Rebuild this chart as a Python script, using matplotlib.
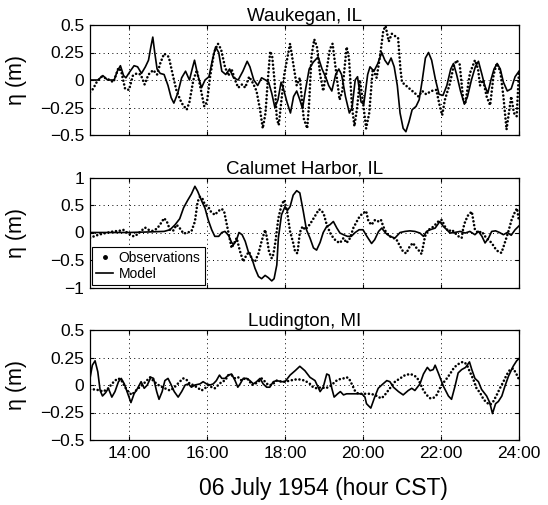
import matplotlib
matplotlib.use("Agg")
import matplotlib.pyplot as plt
from matplotlib.lines import Line2D

plt.rcParams['font.family'] = ['Liberation Sans', 'DejaVu Sans']

# ---------------- data (hours CST, metres) ----------------
titles = ["Waukegan, IL", "Calumet Harbor, IL", "Ludington, MI"]

wauk_obs_t = [13.00, 13.08, 13.17, 13.30, 13.45, 13.60, 13.73, 13.80, 13.90, 14.00,
              14.10, 14.20, 14.30, 14.40, 14.50, 14.62, 14.72, 14.80, 14.90, 15.02,
              15.12, 15.22, 15.35, 15.48, 15.55, 15.65, 15.74, 15.82, 15.93, 16.00,
              16.08, 16.18, 16.28, 16.36, 16.46, 16.55, 16.63, 16.72, 16.80, 16.90,
              16.98, 17.08, 17.18, 17.27, 17.36, 17.43, 17.50, 17.56, 17.62, 17.67,
              17.73, 17.79, 17.84, 17.92, 17.98, 18.05, 18.13, 18.21, 18.30, 18.38,
              18.48, 18.57, 18.62, 18.68, 18.75, 18.82, 18.90, 18.98, 19.05, 19.15,
              19.22, 19.30, 19.40, 19.47, 19.58, 19.64, 19.72, 19.78, 19.85, 19.92,
              20.00, 20.08, 20.16, 20.25, 20.35, 20.45, 20.52, 20.58, 20.66, 20.74,
              20.82, 20.90, 20.96, 21.00, 21.10, 21.20, 21.33, 21.42, 21.52, 21.62,
              21.75, 21.88, 21.97, 22.03, 22.10, 22.23, 22.32, 22.40, 22.48, 22.57,
              22.62, 22.74, 22.87, 22.95, 23.00, 23.08, 23.17, 23.26, 23.35, 23.43,
              23.52, 23.60, 23.68, 23.74, 23.80, 23.87, 23.94, 24.00]
wauk_obs_v = [-0.11, -0.08, -0.02, 0.03, 0.01, -0.02, 0.11, 0.08, -0.08, -0.09,
              0.04, 0.06, 0.05, -0.04, 0.05, 0.09, 0.05, 0.15, 0.24, 0.21,
              0.05, -0.10, -0.21, -0.27, -0.20, 0.00, 0.09, -0.05, -0.24, -0.20,
              0.03, 0.25, 0.33, 0.28, 0.12, 0.04, 0.10, 0.00, -0.07, -0.04,
              -0.07, 0.03, -0.03, -0.10, -0.27, -0.44, -0.30, 0.00, 0.26, 0.22,
              0.00, -0.35, -0.41, -0.15, 0.05, 0.18, 0.33, 0.15, -0.05, 0.02,
              -0.35, -0.44, -0.20, 0.22, 0.37, 0.30, 0.05, -0.10, 0.05, 0.28,
              0.33, 0.10, -0.18, -0.10, 0.30, 0.20, -0.25, -0.42, -0.25, 0.00,
              -0.20, -0.44, -0.30, 0.10, 0.02, 0.25, 0.45, 0.49, 0.35, 0.42,
              0.40, 0.38, 0.10, -0.02, -0.05, -0.08, -0.12, -0.15, -0.10, -0.13,
              -0.10, -0.09, -0.24, -0.32, -0.18, -0.03, 0.12, 0.18, 0.14, -0.18,
              -0.22, 0.06, 0.18, 0.10, -0.05, 0.00, -0.15, -0.23, 0.05, 0.15,
              0.08, -0.15, -0.45, -0.30, -0.15, -0.30, -0.33, 0.08]

wauk_mod_t = [13.00, 13.20, 13.33, 13.45, 13.62, 13.70, 13.78, 13.86, 13.92, 14.03,
              14.13, 14.22, 14.32, 14.42, 14.50, 14.56, 14.61, 14.66, 14.72, 14.80,
              14.90, 15.00, 15.08, 15.15, 15.25, 15.35, 15.45, 15.55, 15.62, 15.68,
              15.76, 15.86, 15.95, 16.05, 16.15, 16.22, 16.30, 16.38, 16.48, 16.58,
              16.68, 16.80, 16.92, 17.03, 17.10, 17.20, 17.30, 17.40, 17.50, 17.58,
              17.66, 17.74, 17.82, 17.90, 17.96, 18.05, 18.14, 18.22, 18.30, 18.38,
              18.45, 18.52, 18.62, 18.72, 18.85, 18.95, 19.05, 19.12, 19.20, 19.30,
              19.38, 19.45, 19.55, 19.65, 19.72, 19.80, 19.86, 19.95, 20.02, 20.12,
              20.18, 20.28, 20.38, 20.48, 20.56, 20.64, 20.72, 20.80, 20.88, 20.95,
              21.03, 21.10, 21.18, 21.26, 21.36, 21.44, 21.52, 21.60, 21.68, 21.76,
              21.86, 21.95, 22.05, 22.15, 22.25, 22.32, 22.40, 22.50, 22.60, 22.68,
              22.78, 22.88, 22.96, 23.05, 23.12, 23.20, 23.28, 23.36, 23.44, 23.52,
              23.60, 23.70, 23.80, 23.90, 24.00]
wauk_mod_v = [0.00, 0.00, 0.04, 0.00, 0.00, 0.08, 0.13, 0.04, 0.02, 0.08,
              0.13, 0.12, 0.06, 0.12, 0.18, 0.30, 0.39, 0.25, 0.10, 0.06,
              0.05, -0.05, -0.16, -0.21, -0.12, 0.02, 0.08, 0.00, 0.10, 0.18,
              0.05, -0.07, 0.00, 0.03, 0.20, 0.30, 0.25, 0.08, 0.05, 0.10,
              0.02, 0.00, 0.08, 0.17, 0.12, 0.00, -0.05, 0.02, 0.00, -0.02,
              -0.12, -0.25, -0.18, -0.02, -0.08, -0.20, -0.30, -0.15, -0.10, -0.18,
              -0.26, -0.10, 0.10, 0.16, 0.21, 0.10, 0.02, -0.05, -0.10, 0.05,
              0.10, 0.05, -0.15, -0.30, -0.25, 0.00, 0.03, -0.20, -0.22, 0.05,
              0.12, 0.08, 0.15, 0.25, 0.18, 0.14, 0.20, 0.12, -0.05, -0.30,
              -0.44, -0.47, -0.38, -0.27, -0.24, -0.18, 0.00, 0.20, 0.25, 0.18,
              0.00, -0.13, -0.14, -0.05, 0.10, 0.15, 0.05, -0.10, -0.22, -0.15,
              0.00, 0.12, 0.17, 0.05, -0.05, -0.12, 0.00, 0.10, 0.15, 0.10,
              -0.02, -0.10, -0.08, 0.03, 0.08]

calu_obs_t = [13.00, 13.10, 13.22, 13.40, 13.60, 13.75, 13.85, 13.95, 14.03, 14.12,
              14.20, 14.30, 14.41, 14.50, 14.60, 14.72, 14.82, 14.90, 14.97, 15.05,
              15.13, 15.22, 15.30, 15.40, 15.50, 15.60, 15.69, 15.76, 15.82, 15.88,
              15.95, 16.03, 16.10, 16.20, 16.29, 16.38, 16.44, 16.50, 16.57, 16.63,
              16.70, 16.76, 16.85, 16.93, 17.01, 17.08, 17.16, 17.23, 17.32, 17.40,
              17.49, 17.53, 17.59, 17.66, 17.70, 17.75, 17.83, 17.91, 17.98, 18.05,
              18.13, 18.21, 18.26, 18.32, 18.38, 18.45, 18.52, 18.64, 18.77, 18.87,
              18.94, 19.00, 19.07, 19.16, 19.24, 19.32, 19.41, 19.50, 19.58, 19.67,
              19.75, 19.84, 19.92, 20.00, 20.08, 20.14, 20.22, 20.31, 20.40, 20.46,
              20.52, 20.60, 20.69, 20.78, 20.86, 20.95, 21.03, 21.11, 21.20, 21.28,
              21.37, 21.46, 21.50, 21.55, 21.59, 21.68, 21.76, 21.85, 21.93, 22.02,
              22.10, 22.19, 22.28, 22.36, 22.45, 22.53, 22.57, 22.62, 22.70, 22.79,
              22.87, 22.96, 23.04, 23.13, 23.21, 23.30, 23.38, 23.47, 23.55, 23.63,
              23.72, 23.81, 23.90, 23.95, 24.00]
calu_obs_v = [-0.10, -0.07, -0.04, -0.01, 0.02, 0.03, 0.05, 0.00, -0.04, -0.07,
              -0.04, 0.02, 0.09, 0.05, 0.03, 0.07, 0.17, 0.26, 0.20, 0.05,
              0.03, 0.14, 0.08, -0.02, 0.00, 0.02, 0.20, 0.56, 0.65, 0.62,
              0.50, 0.47, 0.38, 0.32, 0.39, 0.43, 0.38, 0.17, -0.07, -0.28,
              -0.19, -0.10, -0.35, -0.53, -0.41, -0.35, -0.50, -0.53, -0.38, -0.16,
              0.05, -0.07, -0.35, -0.47, -0.40, -0.19, 0.26, 0.50, 0.59, 0.40,
              0.02, -0.19, -0.35, -0.38, 0.00, 0.11, 0.05, 0.15, 0.30, 0.42,
              0.40, 0.32, 0.14, -0.01, -0.10, -0.16, -0.19, -0.10, -0.19, -0.10,
              0.08, 0.20, 0.30, 0.35, 0.39, 0.20, 0.14, 0.23, 0.20, 0.23,
              0.11, -0.01, -0.07, -0.10, -0.13, -0.25, -0.35, -0.38, -0.25, -0.19,
              -0.28, -0.35, -0.39, -0.22, -0.07, 0.05, 0.08, 0.14, 0.20, 0.23,
              0.11, 0.02, 0.05, -0.01, -0.07, -0.10, 0.08, 0.20, 0.32, 0.38,
              0.05, -0.01, 0.02, -0.07, -0.13, -0.19, -0.28, -0.35, -0.37, -0.20,
              0.00, 0.23, 0.38, 0.44, 0.20]

calu_mod_t = [13.00, 13.50, 14.00, 14.50, 14.90, 15.05, 15.18, 15.30, 15.40, 15.50,
              15.60, 15.69, 15.76, 15.86, 15.95, 16.03, 16.12, 16.20, 16.30, 16.38,
              16.46, 16.55, 16.63, 16.68, 16.75, 16.82, 16.90, 16.98, 17.06, 17.15,
              17.23, 17.32, 17.40, 17.49, 17.57, 17.66, 17.72, 17.79, 17.83, 17.91,
              18.00, 18.06, 18.13, 18.21, 18.30, 18.38, 18.47, 18.55, 18.64, 18.73,
              18.81, 18.90, 18.98, 19.07, 19.15, 19.24, 19.33, 19.41, 19.50, 19.60,
              19.70, 19.80, 19.90, 20.00, 20.10, 20.22, 20.30, 20.40, 20.48, 20.58,
              20.69, 20.82, 20.95, 21.08, 21.20, 21.33, 21.46, 21.55, 21.63, 21.72,
              21.85, 21.97, 22.06, 22.15, 22.23, 22.35, 22.49, 22.62, 22.74, 22.87,
              22.96, 23.05, 23.13, 23.22, 23.30, 23.40, 23.50, 23.60, 23.70, 23.80,
              23.90, 24.00]
calu_mod_v = [0.00, 0.00, 0.00, 0.01, 0.02, 0.05, 0.14, 0.25, 0.45, 0.58,
              0.70, 0.84, 0.75, 0.58, 0.44, 0.23, 0.05, -0.07, -0.07, 0.00,
              0.02, -0.05, -0.18, -0.22, -0.15, 0.00, -0.04, -0.16, -0.35, -0.47,
              -0.65, -0.80, -0.84, -0.78, -0.82, -0.88, -0.84, -0.59, -0.10, 0.32,
              0.47, 0.40, 0.47, 0.68, 0.76, 0.72, 0.38, 0.05, -0.10, -0.28,
              -0.32, -0.18, 0.00, 0.11, 0.14, 0.20, 0.08, -0.01, -0.04, -0.07,
              -0.07, 0.00, 0.05, 0.05, -0.07, -0.20, -0.13, 0.02, 0.08, -0.01,
              -0.07, -0.10, 0.00, 0.02, 0.03, 0.02, -0.01, -0.07, 0.02, 0.05,
              0.08, 0.20, 0.11, 0.05, -0.01, 0.00, 0.02, -0.01, 0.02, -0.04,
              0.02, -0.07, -0.19, -0.10, 0.02, 0.03, 0.00, -0.04, 0.00, -0.05,
              0.05, 0.12]

ludi_obs_t = [13.00, 13.13, 13.26, 13.34, 13.47, 13.56, 13.64, 13.73, 13.81, 13.90,
              13.98, 14.07, 14.15, 14.24, 14.37, 14.54, 14.62, 14.71, 14.80, 14.92,
              15.05, 15.14, 15.22, 15.30, 15.39, 15.47, 15.56, 15.65, 15.78, 15.86,
              15.95, 16.03, 16.12, 16.20, 16.29, 16.38, 16.46, 16.55, 16.63, 16.72,
              16.80, 16.89, 16.97, 17.06, 17.15, 17.23, 17.32, 17.40, 17.49, 17.57,
              17.66, 17.79, 17.92, 18.00, 18.13, 18.25, 18.38, 18.51, 18.64, 18.72,
              18.81, 18.94, 19.03, 19.11, 19.20, 19.28, 19.37, 19.50, 19.58, 19.64,
              19.71, 19.79, 19.88, 19.97, 20.05, 20.18, 20.31, 20.39, 20.48, 20.56,
              20.69, 20.82, 20.95, 21.08, 21.21, 21.29, 21.38, 21.46, 21.55, 21.63,
              21.72, 21.80, 21.89, 21.97, 22.06, 22.15, 22.23, 22.32, 22.40, 22.49,
              22.56, 22.62, 22.68, 22.74, 22.83, 22.91, 23.00, 23.09, 23.17, 23.26,
              23.34, 23.43, 23.51, 23.60, 23.68, 23.77, 23.85, 23.92, 24.00]
ludi_obs_v = [-0.04, -0.04, -0.05, -0.06, -0.03, 0.01, 0.04, 0.06, 0.04, -0.02,
              -0.06, -0.09, -0.06, -0.03, 0.01, 0.07, 0.04, 0.01, -0.01, -0.03,
              -0.05, -0.03, 0.00, 0.03, 0.06, 0.05, 0.01, 0.00, -0.03, -0.05,
              -0.03, 0.00, -0.02, -0.03, 0.00, 0.03, 0.04, 0.09, 0.09, 0.06,
              0.07, 0.04, 0.06, 0.05, 0.00, 0.01, 0.03, 0.06, 0.03, 0.00,
              0.00, 0.04, 0.03, 0.03, 0.04, 0.05, 0.05, 0.04, 0.01, -0.02,
              -0.03, -0.02, -0.03, -0.02, 0.00, 0.03, 0.05, 0.06, 0.07, 0.06,
              0.01, -0.05, -0.08, -0.08, -0.08, -0.08, -0.09, -0.11, -0.12, -0.09,
              -0.03, 0.03, 0.06, 0.09, 0.10, 0.09, 0.07, 0.02, -0.05, -0.09,
              -0.12, -0.12, -0.09, -0.03, 0.02, 0.06, 0.10, 0.15, 0.18, 0.20,
              0.21, 0.20, 0.17, 0.12, 0.05, -0.03, -0.07, -0.13, -0.16, -0.18,
              -0.15, -0.09, -0.03, 0.03, 0.09, 0.14, 0.15, 0.11, 0.05]

ludi_mod_t = [13.00, 13.06, 13.13, 13.20, 13.26, 13.32, 13.40, 13.47, 13.56, 13.64,
              13.73, 13.80, 13.88, 13.97, 14.05, 14.13, 14.22, 14.31, 14.39, 14.47,
              14.56, 14.63, 14.71, 14.77, 14.85, 14.92, 15.00, 15.07, 15.16, 15.26,
              15.35, 15.44, 15.52, 15.60, 15.69, 15.82, 15.90, 15.99, 16.08, 16.16,
              16.24, 16.32, 16.38, 16.46, 16.55, 16.63, 16.72, 16.79, 16.85, 16.93,
              17.02, 17.10, 17.19, 17.27, 17.36, 17.44, 17.53, 17.61, 17.70, 17.79,
              17.91, 18.00, 18.13, 18.26, 18.38, 18.51, 18.64, 18.77, 18.90, 18.98,
              19.07, 19.13, 19.20, 19.26, 19.35, 19.42, 19.50, 19.58, 19.67, 19.80,
              19.97, 20.05, 20.09, 20.20, 20.30, 20.39, 20.48, 20.61, 20.69, 20.78,
              20.91, 21.03, 21.16, 21.25, 21.33, 21.46, 21.55, 21.65, 21.72, 21.80,
              21.85, 21.93, 22.06, 22.19, 22.27, 22.36, 22.44, 22.53, 22.63, 22.73,
              22.79, 22.87, 22.96, 23.04, 23.17, 23.25, 23.32, 23.40, 23.47, 23.56,
              23.64, 23.73, 23.85, 23.94, 24.00]
ludi_mod_v = [0.06, 0.18, 0.22, 0.12, -0.05, -0.10, -0.07, -0.03, -0.11, -0.06,
              0.03, 0.06, 0.01, -0.08, -0.16, -0.08, -0.03, 0.03, -0.03, 0.00,
              0.07, 0.06, -0.06, -0.13, -0.06, 0.04, 0.06, 0.01, -0.06, -0.11,
              -0.06, 0.00, 0.01, -0.02, 0.00, 0.01, 0.03, 0.01, 0.00, 0.01,
              0.04, 0.09, 0.06, 0.06, 0.09, 0.10, 0.04, -0.02, 0.01, 0.06,
              0.06, 0.04, 0.01, 0.03, 0.06, 0.01, -0.02, -0.02, 0.03, 0.04,
              0.03, 0.03, 0.09, 0.13, 0.17, 0.13, 0.07, 0.04, -0.06, -0.02,
              0.10, 0.09, -0.03, -0.11, -0.08, -0.06, -0.09, -0.08, -0.08, -0.08,
              -0.08, -0.11, -0.17, -0.21, -0.11, -0.03, 0.00, 0.04, 0.03, -0.02,
              -0.06, -0.09, -0.05, -0.03, -0.05, 0.01, 0.10, 0.16, 0.13, 0.14,
              0.18, 0.11, -0.01, -0.10, -0.13, -0.01, 0.11, 0.14, 0.16, 0.21,
              0.14, 0.06, 0.03, -0.04, -0.10, -0.16, -0.26, -0.17, -0.15, -0.10,
              -0.01, 0.08, 0.17, 0.22, 0.24]

obs_t = [wauk_obs_t, calu_obs_t, ludi_obs_t]
obs_v = [wauk_obs_v, calu_obs_v, ludi_obs_v]
mod_t = [wauk_mod_t, calu_mod_t, ludi_mod_t]
mod_v = [wauk_mod_v, calu_mod_v, ludi_mod_v]

ylims = [(-0.5, 0.5), (-1, 1), (-0.5, 0.5)]
yticks = [[-0.5, -0.25, 0, 0.25, 0.5], [-1, -0.5, 0, 0.5, 1], [-0.5, -0.25, 0, 0.25, 0.5]]
ytick_labels = [["\u22120.5", "\u22120.25", "0", "0.25", "0.5"],
                ["\u22121", "\u22120.5", "0", "0.5", "1"],
                ["\u22120.5", "\u22120.25", "0", "0.25", "0.5"]]
xticks = [14, 16, 18, 20, 22, 24]
xtick_labels = ["14:00", "16:00", "18:00", "20:00", "22:00", "24:00"]
xlabel = "06 July 1954 (hour CST)"
ylabel = "\u03b7 (m)"

# ---------------- figure ----------------
W, H = 548, 505
fig = plt.figure(figsize=(W / 100, H / 100), dpi=100)
left = 90 / W
width = 429 / W
tops = [25, 177.5, 330]
ph = 110

obs_style = dict(color="black", linewidth=1.9, linestyle=(0, (0.01, 1.45)),
                 dash_capstyle="round", solid_capstyle="round")

for i in range(3):
    ax = fig.add_axes([left, 1 - (tops[i] + ph) / H, width, ph / H])
    ax.plot(obs_t[i], obs_v[i], **obs_style)
    ax.plot(mod_t[i], mod_v[i], color="black", linewidth=1.2)
    ax.set_xlim(13, 24)
    ax.set_ylim(*ylims[i])
    ax.set_yticks(yticks[i])
    ax.set_yticklabels(ytick_labels[i])
    ax.set_xticks(xticks)
    if i == 2:
        ax.set_xticklabels(xtick_labels)
        ax.set_xlabel(xlabel, fontsize=16.5)
        ax.xaxis.set_label_coords(0.545, -0.335)
    else:
        ax.set_xticklabels([])
    ax.grid(True, color="black", linestyle=(0, (1, 3.5)), linewidth=0.7)
    ax.tick_params(direction="in", length=3, width=0.8, labelsize=12.5,
                   top=True, right=True, pad=4)
    for s in ax.spines.values():
        s.set_linewidth(0.9)
    ax.set_title(titles[i], fontsize=13.5, pad=3)
    ax.set_ylabel(ylabel, fontsize=15.5)
    ax.yaxis.set_label_coords(-0.148, 0.5)
    if i == 1:
        handles = [Line2D([], [], color="black", marker=".", markersize=5, linestyle="none"),
                   Line2D([], [], color="black", linewidth=1.2)]
        leg = ax.legend(handles, ["Observations", "Model"], loc="lower left",
                        fontsize=10, frameon=True, fancybox=False, edgecolor="black",
                        framealpha=1, borderaxespad=0.15, handlelength=1.2,
                        handletextpad=0.4, borderpad=0.3, labelspacing=0.15)
        leg.get_frame().set_linewidth(0.8)

fig.savefig("out.png", dpi=100)
